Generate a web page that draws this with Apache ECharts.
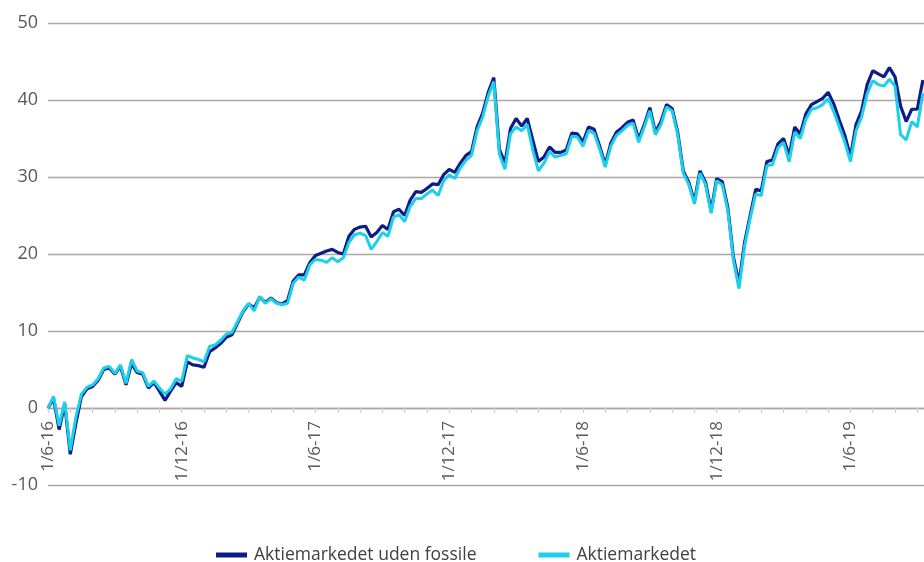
<!DOCTYPE html>
<html>
<head>
<meta charset="utf-8">
<script src="https://cdn.jsdelivr.net/npm/echarts@6/dist/echarts.min.js"></script>
<style>
html,body{margin:0;padding:0;background:#fff;}
#chart{width:924px;height:562px;}
</style>
</head>
<body>
<div id="chart"></div>
<script>
// x: months since 1 June 2016, sampled every quarter month
const stepMonths = 0.25;
const tickLabels = ['1/6-16','1/12-16','1/6-17','1/12-17','1/6-18','1/12-18','1/6-19'];
const seriesNames = ['Aktiemarkedet uden fossile','Aktiemarkedet'];

const fossilFree = [
 0,1.2,-2.8,0.5,-6.0,-2.0,1.5,2.5,2.8,3.6,
 5.0,5.2,4.4,5.4,3.0,5.8,4.6,4.4,2.6,3.3,
 2.2,1.0,2.2,3.3,2.8,6.0,5.6,5.5,5.3,7.3,
 7.8,8.4,9.2,9.5,11.0,12.5,13.5,13.0,14.4,13.7,
 14.3,13.7,13.5,14.0,16.5,17.3,17.3,18.9,19.8,20.1,
 20.4,20.6,20.2,20.0,22.3,23.2,23.5,23.6,22.2,22.8,
 23.7,23.2,25.5,25.8,25.0,27.0,28.1,28.0,28.5,29.1,
 29.0,30.3,31.0,30.6,31.8,32.8,33.3,36.5,38.3,41.0,
 42.9,33.6,31.8,36.3,37.6,36.6,37.6,34.8,32.0,32.6,
 33.9,33.2,33.2,33.5,35.7,35.6,34.5,36.5,36.2,34.0,
 31.6,34.4,35.8,36.4,37.1,37.4,34.9,36.8,39.0,35.8,
 37.2,39.4,38.9,35.8,30.8,29.3,26.8,30.8,29.3,25.6,
 29.8,29.4,26.0,19.6,16.2,21.5,25.0,28.4,28.2,32.0,
 32.2,34.3,35.0,32.8,36.5,35.6,38.2,39.4,39.8,40.2,
 41.0,39.5,37.4,35.4,32.6,36.8,38.6,42.0,43.8,43.4,
 43.0,44.2,43.0,39.2,37.2,38.8,38.8,42.6
];
const market = [
 0,1.5,-2.3,0.8,-5.5,-1.2,1.8,2.7,3.0,3.8,
 5.2,5.4,4.5,5.6,3.2,6.3,4.8,4.6,2.8,3.5,
 2.6,1.8,2.5,3.8,3.5,6.8,6.5,6.3,6.0,8.0,
 8.2,8.8,9.6,9.8,11.2,12.6,13.6,12.6,14.5,13.6,
 14.2,13.6,13.4,13.6,16.2,17.0,16.6,18.6,19.3,19.2,
 18.9,19.5,19.0,19.5,21.5,22.5,22.7,22.4,20.6,21.6,
 22.8,22.3,24.8,25.1,24.2,26.2,27.2,27.2,27.8,28.3,
 27.6,29.5,30.3,29.8,31.2,32.2,32.8,36.0,37.8,40.5,
 42.4,33.0,31.0,35.6,36.5,36.0,36.8,33.5,30.8,31.8,
 33.3,32.6,32.8,33.0,35.3,35.2,34.0,36.0,35.7,33.6,
 31.3,34.0,35.4,36.0,36.7,37.0,34.5,36.5,38.6,35.5,
 36.8,39.1,38.6,35.5,30.5,29.0,26.5,30.5,29.0,25.3,
 29.5,29.0,25.6,19.2,15.5,21.0,24.6,27.8,27.6,31.5,
 31.6,33.8,34.5,32.0,35.8,35.0,37.5,38.8,39.0,39.4,
 40.2,38.5,36.5,34.5,32.0,36.0,37.8,40.8,42.5,42.0,
 41.8,42.7,41.8,35.5,34.8,37.2,36.5,40.9
];

const toPairs = arr => arr.map((v, i) => [i * stepMonths, v]);

const chart = echarts.init(document.getElementById('chart'), null, {renderer: 'canvas'});
const labelColor = '#595959';
const gridColor = '#ADA7A2';
chart.setOption({
  animation: false,
  backgroundColor: '#ffffff',
  textStyle: {fontFamily: 'Open Sans'},
  grid: {left: 48, right: 0, top: 23, bottom: 77, containLabel: false},
  legend: {
    top: 541,
    left: 211,
    itemGap: 62,
    itemWidth: 31,
    itemHeight: 5,
    icon: 'rect',
    textStyle: {fontFamily: 'Open Sans', fontSize: 17.5, color: '#404040', padding: [0, 0, 0, 2]},
    data: seriesNames
  },
  xAxis: {
    type: 'value',
    min: 0,
    max: 39.3,
    interval: 1,
    offset: -77,
    axisLine: {show: true, onZero: false, lineStyle: {color: gridColor, width: 1.3}},
    axisTick: {show: true, length: 5, lineStyle: {color: '#C9CCF2', width: 1.3}},
    splitLine: {show: false},
    axisLabel: {
      rotate: 90,
      margin: 13,
      color: labelColor,
      fontFamily: 'Open Sans',
      fontSize: 17,
      showMaxLabel: false,
      formatter: function (v) {
        if (Math.abs(v % 6) < 1e-6) {
          const k = Math.round(v / 6);
          return tickLabels[k] || '';
        }
        return '';
      }
    }
  },
  yAxis: {
    type: 'value',
    min: -10,
    max: 50,
    interval: 10,
    axisLine: {show: false},
    axisTick: {show: false},
    splitLine: {show: true, lineStyle: {color: gridColor, width: 1.3}},
    axisLabel: {color: labelColor, fontFamily: 'Open Sans', fontSize: 18, margin: 10}
  },
  series: [
    {
      name: seriesNames[0],
      type: 'line',
      data: toPairs(fossilFree),
      showSymbol: false,
      symbol: 'none',
      lineStyle: {color: '#0E1C85', width: 3.2},
      itemStyle: {color: '#0E1C85'},
      z: 2
    },
    {
      name: seriesNames[1],
      type: 'line',
      data: toPairs(market),
      showSymbol: false,
      symbol: 'none',
      lineStyle: {color: '#1CCFEA', width: 3},
      itemStyle: {color: '#1CCFEA'},
      z: 3
    }
  ]
});
</script>
</body>
</html>
